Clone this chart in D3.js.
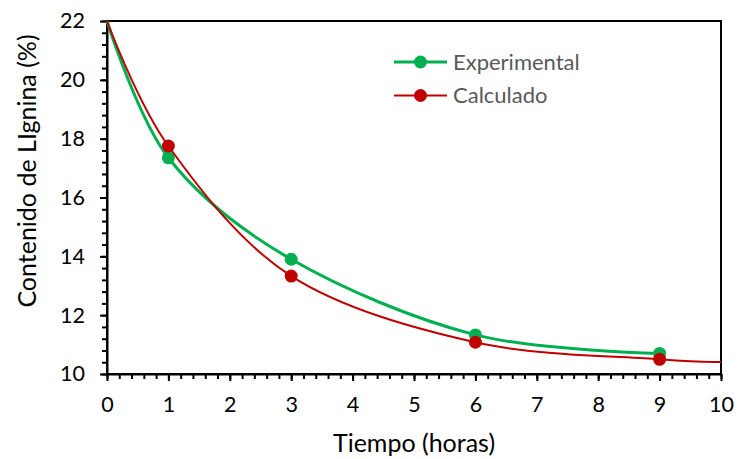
<!DOCTYPE html>
<html>
<head>
<meta charset="utf-8">
<script src="https://cdn.jsdelivr.net/npm/d3@7"></script>
<style>
  html, body { margin: 0; padding: 0; background: #fff; }
  svg { display: block; font-family: Lato, "Open Sans", sans-serif; }
</style>
</head>
<body>
<svg id="chart" width="737" height="459"></svg>
<script>
// ---- data ----
const xTickValues = [0, 1, 2, 3, 4, 5, 6, 7, 8, 9, 10];
const yTickValues = [10, 12, 14, 16, 18, 20, 22];

// Experimental series (smooth line through all points, markers except t=0)
const expTiempo = [0, 1, 3, 6, 9];
const expValues = [22, 17.35, 13.9, 11.33, 10.7];

// Calculado series (model curve to t=10, markers at sampled times)
const calcTiempo = [0, 1, 3, 6, 9, 10];
const calcValues = [22, 17.75, 13.33, 11.08, 10.5, 10.41];

const markerTiempo = [1, 3, 6, 9];

const seriesNames = ["Experimental", "Calculado"];
const xTitle = "Tiempo (horas)";
const yTitle = "Contenido de LIgnina (%)";

// ---- layout ----
const svg = d3.select("#chart");
const mLeft = 107, mRight = 721, mTop = 21, mBottom = 374;

const x = d3.scaleLinear().domain([0, 10]).range([mLeft, mRight]);
const y = d3.scaleLinear().domain([10, 22]).range([mBottom, mTop]);

const GREEN = "#00B050", RED = "#C00000";

// plot box (top/right borders)
svg.append("rect")
  .attr("x", mLeft).attr("y", mTop)
  .attr("width", mRight - mLeft).attr("height", mBottom - mTop)
  .attr("fill", "none").attr("stroke", "#000").attr("stroke-width", 2);

// minor ticks
const xMinor = d3.range(0, 10.0001, 0.2).map(v => +v.toFixed(1));
const yMinor = d3.range(10, 22.0001, 0.4).map(v => +v.toFixed(1));

svg.append("g").attr("transform", `translate(0,${mBottom})`)
  .call(d3.axisBottom(x).tickValues(xMinor).tickSize(5).tickFormat(""))
  .call(g => { g.select(".domain").remove(); g.selectAll("line").attr("stroke-width", 2); });
svg.append("g").attr("transform", `translate(${mLeft},0)`)
  .call(d3.axisLeft(y).tickValues(yMinor).tickSize(5).tickFormat(""))
  .call(g => { g.select(".domain").remove(); g.selectAll("line").attr("stroke-width", 2); });

// major axes
const xAxis = svg.append("g").attr("transform", `translate(0,${mBottom})`)
  .call(d3.axisBottom(x).tickValues(xTickValues).tickSize(7).tickSizeOuter(0).tickPadding(16).tickFormat(d3.format("d")));
xAxis.select(".domain").attr("stroke-width", 2);
xAxis.selectAll("line").attr("stroke-width", 2);
xAxis.selectAll("text").attr("font-size", 21.5).attr("fill", "#000").attr("font-family", "Lato");

const yAxis = svg.append("g").attr("transform", `translate(${mLeft},0)`)
  .call(d3.axisLeft(y).tickValues(yTickValues).tickSize(7).tickSizeOuter(0).tickPadding(15).tickFormat(d3.format("d")));
yAxis.select(".domain").attr("stroke-width", 2);
yAxis.selectAll("line").attr("stroke-width", 2);
yAxis.selectAll("text").attr("font-size", 21.5).attr("fill", "#000").attr("font-family", "Lato");

// lines
const line = d3.line().x(d => x(d[0])).y(d => y(d[1])).curve(d3.curveCardinal.tension(0));

const expData = expTiempo.map((t, i) => [t, expValues[i]]);
const calcData = calcTiempo.map((t, i) => [t, calcValues[i]]);

svg.append("path").datum(expData).attr("d", line)
  .attr("fill", "none").attr("stroke", GREEN).attr("stroke-width", 3);
svg.append("g").selectAll("circle")
  .data(expData.filter(d => markerTiempo.includes(d[0])))
  .join("circle").attr("cx", d => x(d[0])).attr("cy", d => y(d[1])).attr("r", 6.5).attr("fill", GREEN);

svg.append("path").datum(calcData).attr("d", line)
  .attr("fill", "none").attr("stroke", RED).attr("stroke-width", 2);
svg.append("g").selectAll("circle")
  .data(calcData.filter(d => markerTiempo.includes(d[0])))
  .join("circle").attr("cx", d => x(d[0])).attr("cy", d => y(d[1])).attr("r", 6.5).attr("fill", RED);

// legend
const legend = svg.append("g");
const legendColors = [GREEN, RED];
const legendWidths = [3, 2];
seriesNames.forEach((name, i) => {
  const ly = 62 + i * 33.5;
  legend.append("line").attr("x1", 394).attr("x2", 447).attr("y1", ly).attr("y2", ly)
    .attr("stroke", legendColors[i]).attr("stroke-width", legendWidths[i]);
  legend.append("circle").attr("cx", 420.5).attr("cy", ly).attr("r", 6.5).attr("fill", legendColors[i]);
  legend.append("text").attr("x", 453).attr("y", ly + 7.5)
    .attr("font-size", 22).attr("fill", "#595959").text(name);
});

// axis titles
svg.append("text").attr("x", (mLeft + mRight) / 2).attr("y", 452)
  .attr("text-anchor", "middle").attr("font-size", 25).attr("fill", "#000").text(xTitle);
svg.append("text").attr("transform", "translate(36,171) rotate(-90)")
  .attr("text-anchor", "middle").attr("font-size", 25).attr("fill", "#000").text(yTitle);
</script>
</body>
</html>
